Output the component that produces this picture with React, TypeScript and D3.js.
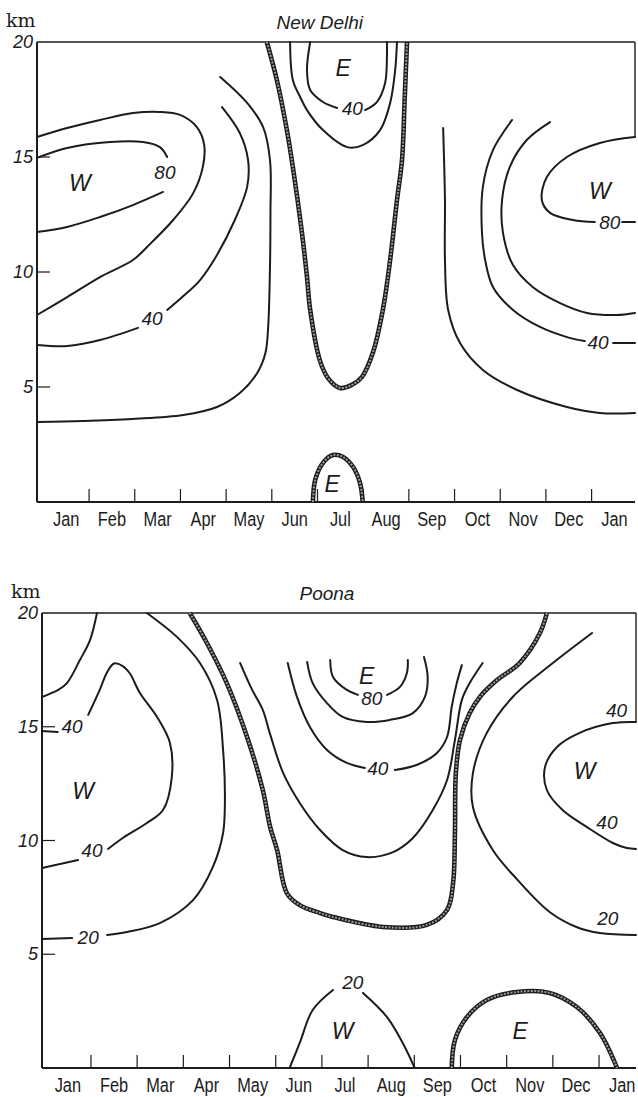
import React from 'react';
import * as d3 from 'd3';

type Pt = [number, number] | null;

const monthLabels = ['Jan', 'Feb', 'Mar', 'Apr', 'May', 'Jun', 'Jul', 'Aug', 'Sep', 'Oct', 'Nov', 'Dec', 'Jan'];
const monthBounds = [1, 2, 3, 4, 5, 6, 7, 8, 9, 10, 11, 12];
const kmTicks = [5, 10, 15, 20];

// ---------- New Delhi (x: month index, y: km) ----------
const delhiW80: Pt[] = [[-0.14, 14.96], [0.52, 15.39], [1.46, 15.65], [2.18, 15.65], [2.55, 15.43], [2.71, 15.0], null, [2.62, 13.48], [1.96, 12.91], [1.24, 12.39], [0.52, 11.96], [-0.14, 11.74]];
const delhiW60: Pt[] = [[-0.14, 15.87], [0.52, 16.26], [1.24, 16.61], [1.96, 16.91], [2.55, 16.96], [2.99, 16.83], [3.36, 16.3], [3.52, 15.52], [3.49, 14.57], [3.28, 13.43], [2.84, 12.26], [2.27, 11.09], [1.96, 10.52], [1.24, 9.78], [0.52, 8.91], [-0.14, 8.13]];
const delhiW40: Pt[] = [[3.91, 17.17], [4.3, 16.04], [4.48, 14.87], [4.46, 13.7], [4.19, 12.26], [3.8, 10.74], [3.43, 9.65], [3.04, 8.91], [2.71, 8.35], null, [2.07, 7.57], [1.24, 7.04], [0.52, 6.78], [-0.14, 6.83]];
const delhiW20: Pt[] = [[3.87, 18.48], [4.46, 17.35], [4.81, 16.3], [4.96, 14.87], [4.97, 12.5], [4.96, 10.22], [4.92, 7.61], [4.86, 6.48], [4.68, 5.61], [4.3, 4.74], [3.8, 4.13], [3.06, 3.78], [1.96, 3.61], [0.87, 3.52], [-0.14, 3.48]];
const delhiZero: Pt[] = [[4.89, 20], [5.11, 18.35], [5.33, 16.17], [5.46, 14.57], [5.66, 11.7], [5.77, 9.78], [5.84, 8.35], [6.05, 6.17], [6.23, 5.39], [6.49, 4.96], [6.75, 5.09], [6.97, 5.43], [7.21, 6.48], [7.43, 8.35], [7.59, 10.52], [7.74, 13.13], [7.85, 14.87], [7.91, 17.61], [7.96, 20]];
const delhiE20: Pt[] = [[5.4, 20], [5.46, 18.35], [5.62, 17.61], [5.77, 17.04], [6.12, 16.17], [6.65, 15.43], [6.99, 15.52], [7.37, 16.17], [7.59, 17.35], [7.7, 18.78], [7.74, 20]];
const delhiE40: Pt[] = [[5.84, 20], [5.77, 18.78], [5.84, 17.91], [6.12, 17.39], [6.43, 17.13], null, [7.04, 17.04], [7.3, 17.39], [7.48, 18.22], [7.52, 19.35], [7.52, 20]];
const delhiEBottom: Pt[] = [[5.9, 0], [5.95, 0.96], [6.12, 1.7], [6.34, 2.04], [6.56, 1.96], [6.78, 1.52], [6.93, 0.83], [6.99, 0]];
const delhiR20: Pt[] = [[8.75, 16.26], [8.79, 13.13], [8.79, 10.52], [8.86, 8.35], [9.12, 6.91], [9.62, 5.74], [10.37, 4.87], [11.46, 4.13], [12.18, 3.87], [12.95, 3.87]];
const delhiR40: Pt[] = [[10.26, 16.61], [9.84, 15.3], [9.62, 13.7], [9.6, 11.7], [9.67, 10.52], [9.84, 9.35], [10.28, 8.35], [10.87, 7.61], [11.46, 7.17], [11.85, 7.0], null, [12.47, 6.91], [12.95, 6.91]];
const delhiR60: Pt[] = [[11.09, 16.52], [10.58, 15.74], [10.21, 14.57], [10.04, 13.13], [10.06, 11.7], [10.28, 10.3], [10.71, 9.35], [11.31, 8.65], [11.9, 8.22], [12.55, 8.13], [12.95, 8.22]];
const delhiR80: Pt[] = [[12.95, 15.87], [12.18, 15.61], [11.46, 15.0], [11.02, 14.13], [10.91, 13.13], [11.09, 12.57], [11.59, 12.26], [12.07, 12.17], null, [12.67, 12.17], [12.95, 12.17]];

const delhiValueLabels: [string, number, number][] = [['80', 2.66, 14.35], ['40', 2.38, 8.0], ['40', 6.76, 17.13], ['40', 12.14, 6.96], ['80', 12.4, 12.17]];
const delhiRegionLabels: [string, number, number][] = [['W', 0.8, 13.91], ['E', 6.56, 18.91], ['E', 6.32, 0.83], ['W', 12.18, 13.57]];

// ---------- Poona ----------
const poonaCorner: Pt[] = [[-0.06, 16.31], [0.29, 16.62], [0.48, 16.92], [0.76, 17.93], [0.98, 18.81], [1.13, 20]];
const poonaW40: Pt[] = [[-0.06, 14.81], [0.28, 14.77], null, [0.94, 15.52], [1.19, 16.62], [1.35, 17.4], [1.5, 17.78], [1.68, 17.68], [1.84, 17.35], [2.06, 16.48], [2.43, 15.43], [2.71, 14.29], [2.75, 12.79], [2.56, 11.34], [2.21, 10.77], [1.69, 10.11], [1.37, 9.63], null, [0.72, 9.14], [-0.06, 8.79]];
const poonaW20: Pt[] = [[2.21, 20], [2.86, 18.95], [3.36, 17.8], [3.73, 16.18], [3.86, 13.98], [3.9, 11.78], [3.86, 10.33], [3.64, 8.84], [3.21, 7.38], [2.49, 6.37], [1.78, 5.98], [1.35, 5.85], null, [0.59, 5.71], [-0.06, 5.67]];
const poonaZero: Pt[] = [[3.14, 20], [3.51, 18.68], [3.94, 16.92], [4.38, 14.55], [4.72, 12.22], [4.88, 10.59], [5.03, 9.58], [5.24, 7.69], [5.52, 7.16], [5.96, 6.81], [6.24, 6.64], [7.32, 6.2], [8.27, 6.29], [8.71, 6.95], [8.84, 8.13], [8.88, 10.33], [8.9, 12.97], [8.99, 14.42], [9.2, 15.6], [9.42, 16.31], [9.79, 17.05], [10.28, 17.8], [10.72, 19.12], [10.87, 20]];
const poonaE80: Pt[] = [[6.18, 17.93], [6.24, 17.19], [6.54, 16.62], [6.78, 16.4], null, [7.41, 16.4], [7.69, 16.75], [7.84, 17.36], [7.86, 17.93]];
const poonaE60: Pt[] = [[5.68, 17.85], [5.8, 16.92], [6.11, 16.04], [6.45, 15.43], [6.97, 15.21], [7.47, 15.3], [7.97, 15.6], [8.23, 16.31], [8.29, 17.19], [8.21, 18.07]];
const poonaE40: Pt[] = [[5.26, 17.8], [5.46, 16.31], [5.74, 14.99], [6.11, 13.98], [6.54, 13.41], [6.93, 13.19], null, [7.58, 13.1], [8.05, 13.32], [8.49, 13.85], [8.71, 14.55], [8.81, 15.87], [8.92, 16.92], [9.03, 17.71]];
const poonaE20: Pt[] = [[4.23, 17.8], [4.49, 16.62], [4.72, 15.74], [4.87, 14.73], [5.16, 12.97], [5.52, 11.65], [5.96, 10.46], [6.45, 9.58], [6.97, 9.27], [7.54, 9.49], [7.97, 10.11], [8.4, 11.34], [8.71, 12.66], [8.88, 14.42], [9.03, 16.18], [9.2, 16.92], [9.48, 17.8]];
const poonaR20: Pt[] = [[11.85, 19.12], [11.0, 17.8], [10.13, 16.31], [9.57, 14.73], [9.27, 12.97], [9.27, 11.47], [9.7, 9.58], [10.24, 8.26], [10.93, 6.86], [11.51, 6.2], [12.02, 5.93], [12.8, 5.85]];
const poonaR40: Pt[] = [[12.8, 15.21], [12.3, 15.16], [11.58, 14.73], [11.09, 14.11], [10.83, 13.23], [10.87, 12.22], [11.21, 11.34], [11.74, 10.59], [12.3, 9.89], [12.6, 9.67], [12.8, 9.63]];
const poonaBottomW20: Pt[] = [[5.3, 0], [5.52, 1.1], [5.8, 2.55], [6.24, 3.43], null, [6.89, 3.3], [7.41, 2.24], [7.75, 1.1], [8.01, 0]];
const poonaBottomE0: Pt[] = [[8.81, 0], [8.88, 1.23], [9.14, 2.24], [9.57, 2.99], [10.22, 3.34], [10.93, 3.3], [11.52, 2.68], [12.02, 1.54], [12.39, 0]];

const poonaValueLabels: [string, number, number][] = [['40', 0.59, 15.03], ['40', 1.02, 9.58], ['20', 0.94, 5.76], ['80', 7.08, 16.26], ['40', 7.21, 13.19], ['40', 12.38, 15.74], ['40', 12.17, 10.81], ['20', 12.19, 6.59], ['20', 6.67, 3.78]];
const poonaRegionLabels: [string, number, number][] = [['W', 0.83, 12.22], ['E', 6.97, 17.27], ['W', 11.69, 13.1], ['W', 6.45, 1.67], ['E', 10.29, 1.67]];

const SANS = "'Liberation Sans','DejaVu Sans',sans-serif";
const INK = '#1c1c1c';

type PanelProps = {
  title: string;
  left: number; right: number; top: number; bottom: number;
  domainX: [number, number];
  titleM: number;
  lines: Pt[][];
  zeros: Pt[][];
  values: [string, number, number][];
  regions: [string, number, number][];
  rightBorderKm: number;
};

function Panel(p: PanelProps) {
  const x = d3.scaleLinear().domain(p.domainX).range([p.left, p.right]);
  const y = d3.scaleLinear().domain([0, 20]).range([p.bottom, p.top]);
  const line = d3.line<Pt>()
    .defined((d) => d !== null)
    .x((d) => x((d as [number, number])[0]))
    .y((d) => y((d as [number, number])[1]))
    .curve(d3.curveCatmullRom.alpha(0.5));
  return (
    <g>
      {/* frame */}
      <line x1={p.left} x2={p.right} y1={p.top} y2={p.top} stroke={INK} strokeWidth={1.6} />
      <line x1={p.left} x2={p.left} y1={p.top} y2={p.bottom} stroke={INK} strokeWidth={2} />
      <line x1={p.left} x2={p.right} y1={p.bottom} y2={p.bottom} stroke={INK} strokeWidth={2.2} />
      <line x1={p.right} x2={p.right} y1={p.top} y2={y(p.rightBorderKm)} stroke={INK} strokeWidth={1.4} />
      {/* y ticks */}
      {kmTicks.map((k) => (
        <g key={'yt' + k}>
          {k < 20 && <line x1={p.left} x2={p.left + 13} y1={y(k)} y2={y(k)} stroke={INK} strokeWidth={1.2} />}
          <text x={p.left - 4} y={y(k) + 6} textAnchor="end" fontFamily={SANS} fontStyle="italic" fontSize={18} fill={INK}>{k}</text>
        </g>
      ))}
      <text x={p.left - 31} y={p.top - 15} fontFamily="'DejaVu Serif','Liberation Serif',serif" fontSize={19} fill={INK}>km</text>
      <text x={x(p.titleM)} y={p.top - 13} textAnchor="middle" fontFamily={SANS} fontStyle="italic" fontSize={19} fill={INK}>{p.title}</text>
      {/* x ticks */}
      {monthBounds.map((b) => (
        <line key={'xt' + b} x1={x(b)} x2={x(b)} y1={p.bottom} y2={p.bottom - 13} stroke={INK} strokeWidth={1.2} />
      ))}
      {monthLabels.map((m, i) => (
        <text key={'ml' + i} transform={`translate(${x(i + 0.5)},${p.bottom + 24}) scale(0.78,1)`} textAnchor="middle" fontFamily={SANS} fontSize={21} fill={INK}>{m}</text>
      ))}
      {/* contours */}
      {p.lines.map((c, i) => (
        <path key={'c' + i} d={line(c) || ''} fill="none" stroke={INK} strokeWidth={2} strokeLinecap="round" />
      ))}
      {p.zeros.map((c, i) => (
        <g key={'z' + i}>
          <path d={line(c) || ''} fill="none" stroke={INK} strokeWidth={4.6} />
          <path d={line(c) || ''} fill="none" stroke="#9a9a9a" strokeWidth={2} strokeDasharray="2 1.4" />
        </g>
      ))}
      {p.values.map(([t, m, k], i) => (
        <text key={'v' + i} x={x(m)} y={y(k) + 7} textAnchor="middle" fontFamily={SANS} fontStyle="italic" fontSize={19} fill={INK}>{t}</text>
      ))}
      {p.regions.map(([t, m, k], i) => (
        <text key={'r' + i} x={x(m)} y={y(k) + 9} textAnchor="middle" fontFamily={SANS} fontStyle="italic" fontSize={23} fill={INK}>{t}</text>
      ))}
    </g>
  );
}

export default function App() {
  return (
    <svg width={638} height={1097} style={{ position: 'absolute', left: 0, top: 0, background: '#fff' }}>
      <rect x={0} y={0} width={638} height={1097} fill="#fff" />
      <Panel
        title="New Delhi"
        left={37} right={635} top={42} bottom={502}
        domainX={[-0.14, 12.95]}
        titleM={6.05}
        lines={[delhiW80, delhiW60, delhiW40, delhiW20, delhiE20, delhiE40, delhiR20, delhiR40, delhiR60, delhiR80]}
        zeros={[delhiZero, delhiEBottom]}
        values={delhiValueLabels}
        regions={delhiRegionLabels}
        rightBorderKm={15.87}
      />
      <Panel
        title="Poona"
        left={42} right={636} top={613} bottom={1068}
        domainX={[-0.06, 12.8]}
        titleM={6.11}
        lines={[poonaCorner, poonaW40, poonaW20, poonaE80, poonaE60, poonaE40, poonaE20, poonaR20, poonaR40, poonaBottomW20]}
        zeros={[poonaZero, poonaBottomE0]}
        values={poonaValueLabels}
        regions={poonaRegionLabels}
        rightBorderKm={15.21}
      />
    </svg>
  );
}
